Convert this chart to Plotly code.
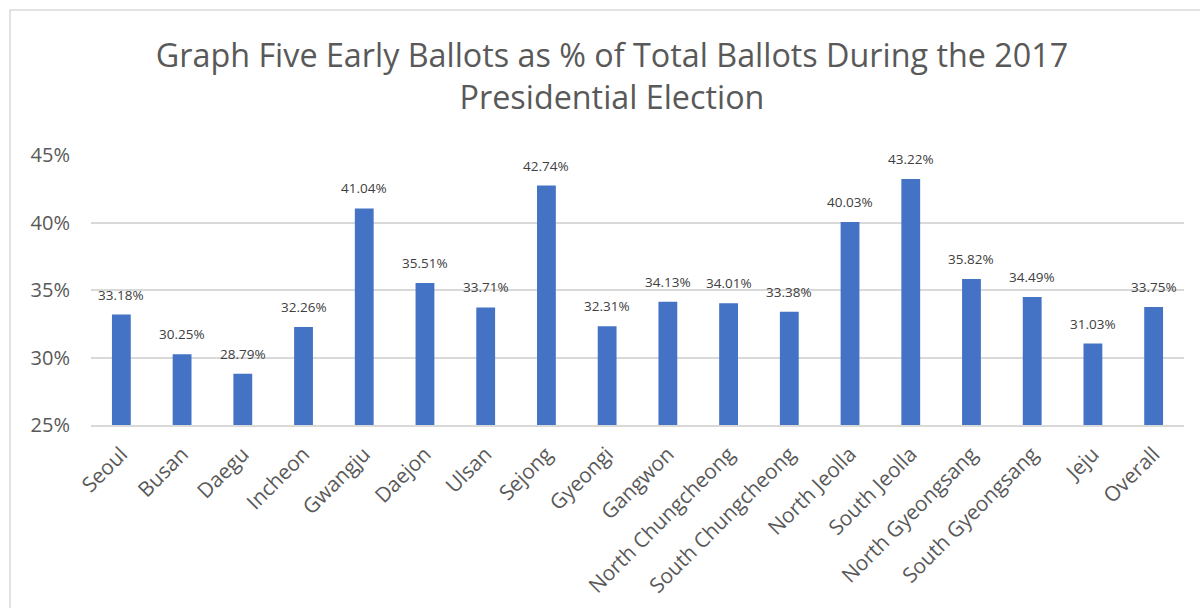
import plotly.graph_objects as go

regions = ["Seoul", "Busan", "Daegu", "Incheon", "Gwangju", "Daejon", "Ulsan", "Sejong",
           "Gyeongi", "Gangwon", "North Chungcheong", "South Chungcheong", "North Jeolla",
           "South Jeolla", "North Gyeongsang", "South Gyeongsang", "Jeju", "Overall"]
early_pct = [33.18, 30.25, 28.79, 32.26, 41.04, 35.51, 33.71, 42.74, 32.31, 34.13,
             34.01, 33.38, 40.03, 43.22, 35.82, 34.49, 31.03, 33.75]
y_ticks = [25, 30, 35, 40, 45]
y_tick_labels = ["25%", "30%", "35%", "40%", "45%"]
title_text = "Graph Five Early Ballots as % of Total Ballots During the 2017<br>Presidential Election"

FONT = "Open Sans"
GRAY = "#595959"

fig = go.Figure()
fig.add_trace(go.Bar(
    x=regions, y=early_pct, marker_color="#4472C4",
    marker_line_width=0, width=0.31,
))

for r, v in zip(regions, early_pct):
    fig.add_annotation(x=r, y=v, text=f"{v:.2f}%", showarrow=False,
                       yanchor="middle", yshift=20,
                       font=dict(family=FONT, size=13.5, color="#404040"))

# chart border
fig.add_shape(type="rect", xref="paper", yref="paper",
              x0=(10 - 91) / 1093, x1=(1215 - 91) / 1093,
              y0=(425 - 620) / 270, y1=(425 - 10) / 270,
              line=dict(color="#D9D9D9", width=1.5), layer="below")

fig.update_layout(
    width=1200, height=608,
    margin=dict(l=91, r=16, t=155, b=183),
    paper_bgcolor="white", plot_bgcolor="white",
    showlegend=False,
    title=dict(text=title_text, x=0.51, xanchor="center", y=0.889, yanchor="middle",
               font=dict(family=FONT, size=32.3, color=GRAY)),
)
fig.update_yaxes(range=[25, 45], tickvals=y_ticks, ticktext=y_tick_labels,
                 showgrid=True, gridcolor="#D9D9D9", gridwidth=1.5,
                 zeroline=False, showline=False, ticks="", ticklen=0,
                 ticklabelstandoff=20, automargin=False,
                 tickfont=dict(family=FONT, size=20, color=GRAY))
fig.update_xaxes(tickangle=-45, showline=True, linecolor="#D9D9D9", linewidth=1.5,
                 ticks="", ticklabelstandoff=7, automargin=False,
                 tickfont=dict(family=FONT, size=20.8, color=GRAY))

fig.write_html("out.html")
